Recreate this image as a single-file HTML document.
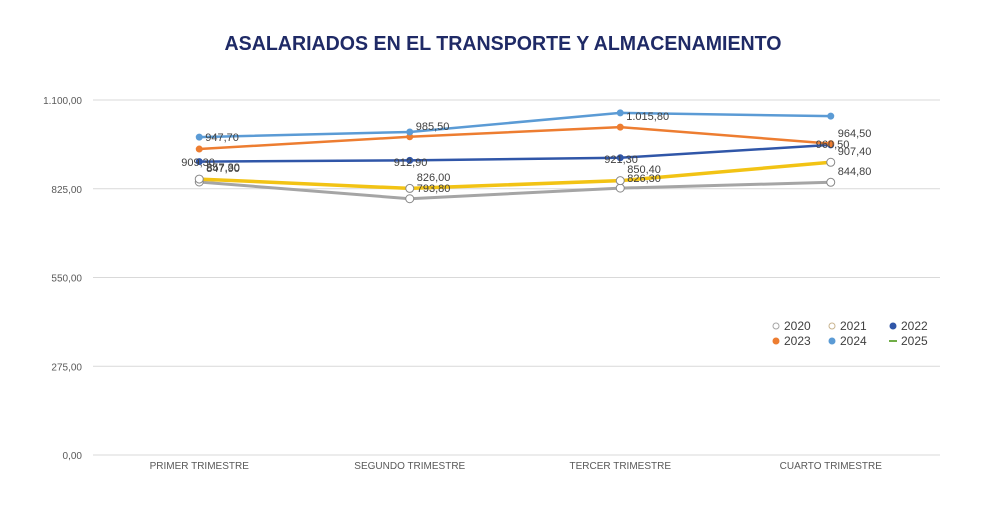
<!DOCTYPE html>
<html><head><meta charset="utf-8"><style>
body{margin:0;background:#fff;width:1000px;height:500px;overflow:hidden;font-family:"Liberation Sans",sans-serif}
</style></head><body>
<svg width="1000" height="500" id="chart">
<text x="503" y="50" text-anchor="middle" font-size="20" font-weight="bold" fill="#1f2a66" textLength="557" lengthAdjust="spacingAndGlyphs">ASALARIADOS EN EL TRANSPORTE Y ALMACENAMIENTO</text>
<g id="grid"></g><g id="series"></g><g id="labels"></g><g id="legend"></g>
</svg>
<script>
const categories=["PRIMER TRIMESTRE","SEGUNDO TRIMESTRE","TERCER TRIMESTRE","CUARTO TRIMESTRE"];
const yTicks=[0,275,550,825,1100];
const yTickLabels=["0,00","275,00","550,00","825,00","1.100,00"];
const s2020=[846,794,827,845];
const s2021=[855,826,850,907];
const s2022=[909,913,921,961];
const s2023=[948,986,1016,965];
const s2024=[985,1001,1060,1050];
const lab2020=["847,90","793,80","826,30","844,80"];
const lab2021=["857,30","826,00","850,40","907,40"];
const lab2022=["909,30","912,90","921,30","960,50"];
const lab2023=["947,70","985,50","1.015,80","964,50"];
const NS="http://www.w3.org/2000/svg";
const x0=94,x1=936,yb=455,yt=100;
const xs=i=>x0+(x1-x0)*(i+0.5)/categories.length;
const ys=v=>yb-(yb-yt)*v/1100;
function mk(tag,attrs,parent,txt){const e=document.createElementNS(NS,tag);for(const k in attrs)e.setAttribute(k,attrs[k]);if(txt!==undefined)e.textContent=txt;parent.appendChild(e);return e;}
const grid=document.getElementById('grid');
yTicks.forEach((t,i)=>{
 const l=mk('line',{x1:93,x2:940,y1:ys(t),y2:ys(t),stroke:'#d9d9d9','stroke-width':1},grid);
 
 
 const tx=mk('text',{x:82,y:ys(t)+4,'text-anchor':'end','font-size':10,fill:'#595959'},grid,yTickLabels[i]);
 
 
});
categories.forEach((c,i)=>{
 const tx=mk('text',{x:xs(i),y:469,'text-anchor':'middle','font-size':10,fill:'#595959'},grid,c);
 
 
});
const sg=document.getElementById('series');
const defs=[
 {d:s2020,c:'#a5a5a5',w:3,open:true,n:'2020'},
 {d:s2021,c:'#f2c314',w:3.5,open:true,n:'2021'},
 {d:s2022,c:'#3056a8',w:2.5,open:false,n:'2022'},
 {d:s2023,c:'#ed7d31',w:2.5,open:false,n:'2023'},
 {d:s2024,c:'#5b9bd5',w:2.5,open:false,n:'2024'}];
defs.forEach(s=>{
 const p=mk('polyline',{points:s.d.map((v,i)=>xs(i)+','+ys(v)).join(' '),fill:'none',stroke:s.c,'stroke-width':s.w},sg);
 
 
 s.d.forEach((v,i)=>{
  const m=mk('circle',{cx:xs(i),cy:ys(v),r:s.open?4:3,fill:s.open?'#fff':s.c,stroke:s.open?'#888':s.c,'stroke-width':1},sg);
  
  
 });
});
const lg=document.getElementById('labels');
function labels(arr,dx,dys){arr.forEach((t,i)=>{
 const tx=mk('text',{x:xs(i)+dx[i],y:dys[i],'font-size':11,fill:'#404040'},lg,t);
 
 
});}
labels(lab2023,[6,6,6,7],[141,130,120,137]);
labels(lab2022,[-18,-16,-16,-15],[166,166,163,148]);
labels(lab2021,[7,7,7,7],[171,181,173,155]);
labels(lab2020,[7,7,7,7],[172,192,182,175]);
const leg=document.getElementById('legend');
const items=[['2020','#a5a5a5',1,776,330],['2021','#c9b48f',1,832,330],['2022','#3056a8',0,893,330],['2023','#ed7d31',0,776,345],['2024','#5b9bd5',0,832,345]];
items.forEach(it=>{
 const c=mk('circle',{cx:it[3],cy:it[4]-4,r:3,fill:it[2]?'#fff':it[1],stroke:it[1],'stroke-width':1},leg);
 
 
 const t=mk('text',{x:it[3]+8,y:it[4],'font-size':12,fill:'#404040'},leg,it[0]);
 
 
});
const gl=mk('line',{x1:889,x2:897,y1:341,y2:341,stroke:'#70ad47','stroke-width':2},leg);


const gt=mk('text',{x:901,y:345,'font-size':12,fill:'#404040'},leg,'2025');


</script>
</body></html>
